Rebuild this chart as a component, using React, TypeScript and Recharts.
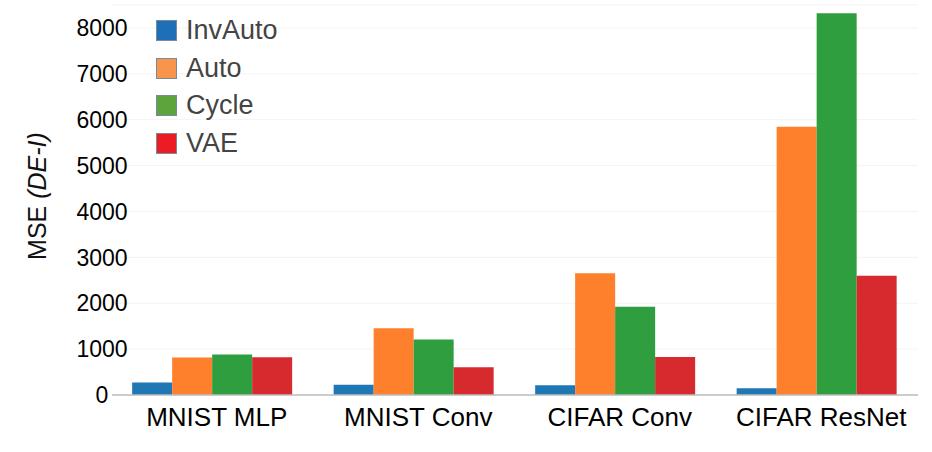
import React from 'react';
import {
  BarChart,
  Bar,
  XAxis,
  YAxis,
  CartesianGrid,
  Legend,
} from 'recharts';

const categories = ['MNIST MLP', 'MNIST Conv', 'CIFAR Conv', 'CIFAR ResNet'];
const invAuto = [270, 226, 211, 146];
const auto = [815, 1453, 2651, 5847];
const cycle = [880, 1207, 1926, 8322];
const vae = [821, 603, 828, 2601];
const yTicks = [0, 1000, 2000, 3000, 4000, 5000, 6000, 7000, 8000];

const series = [
  { key: 'InvAuto', values: invAuto, color: '#1f77b4', legend: '#1f6fb8' },
  { key: 'Auto', values: auto, color: '#fe7f2c', legend: '#f9954a' },
  { key: 'Cycle', values: cycle, color: '#2e9e3e', legend: '#5ea43c' },
  { key: 'VAE', values: vae, color: '#d62a2e', legend: '#ec1c24' },
];

const data = categories.map((name, i) => {
  const row: any = { name };
  series.forEach((s) => (row[s.key] = s.values[i]));
  return row;
});

const FONT = '"Liberation Sans", Arial, sans-serif';

const YLabel = (props: any) => {
  const vb = props.viewBox || { x: 0, y: 5, width: 112, height: 390 };
  const cx = vb.x + 37;
  const cy = vb.y + vb.height / 2 - 4;
  return (
    <text
      x={cx}
      y={cy}
      transform={`rotate(-90, ${cx}, ${cy})`}
      textAnchor="middle"
      dominantBaseline="central"
      fontSize={25}
      fontFamily={FONT}
      fill="#111"
    >
      MSE <tspan fontStyle="italic">(DE-I)</tspan>
    </text>
  );
};

const renderLegend = () => (
  <div style={{ fontFamily: FONT }}>
    {series.map((s) => (
      <div key={s.key} style={{ display: 'flex', alignItems: 'center', height: 37.5 }}>
        <span
          style={{
            width: 19,
            height: 19,
            background: s.legend,
            border: '1px solid #7a8a9a',
            marginRight: 9,
          }}
        />
        <span style={{ fontSize: 27, color: '#444' }}>{s.key}</span>
      </div>
    ))}
  </div>
);

export default function App() {
  return (
    <div style={{ position: 'absolute', left: 0, top: 0, width: 932, height: 452, background: '#fff' }}>
      <BarChart
        width={932}
        height={452}
        data={data}
        margin={{ top: 5, right: 14, bottom: 5, left: 0 }}
        barCategoryGap="10%"
        barGap={0}
      >
        <CartesianGrid vertical={false} stroke="#f3f3f3" />
        <XAxis
          dataKey="name"
          height={52}
          tickLine={false}
          tickMargin={7}
          axisLine={{ stroke: '#bdbdbd', strokeWidth: 1.5 }}
          tick={{ fontSize: 26, fill: '#000', fontFamily: FONT, dx: 4 }}
        />
        <YAxis
          width={112}
          domain={[0, 8500]}
          ticks={yTicks}
          interval={0}
          axisLine={false}
          tickLine={false}
          tick={{ fontSize: 23, fill: '#000', fontFamily: FONT, textAnchor: 'middle', dx: -2 }}
          label={<YLabel />}
        />
        <Legend
          layout="vertical"
          align="center"
          verticalAlign="middle"
          content={renderLegend}
          wrapperStyle={{ left: 156, top: 12, width: 200 }}
        />
        {series.map((s) => (
          <Bar key={s.key} dataKey={s.key} fill={s.color} isAnimationActive={false} />
        ))}
      </BarChart>
    </div>
  );
}
